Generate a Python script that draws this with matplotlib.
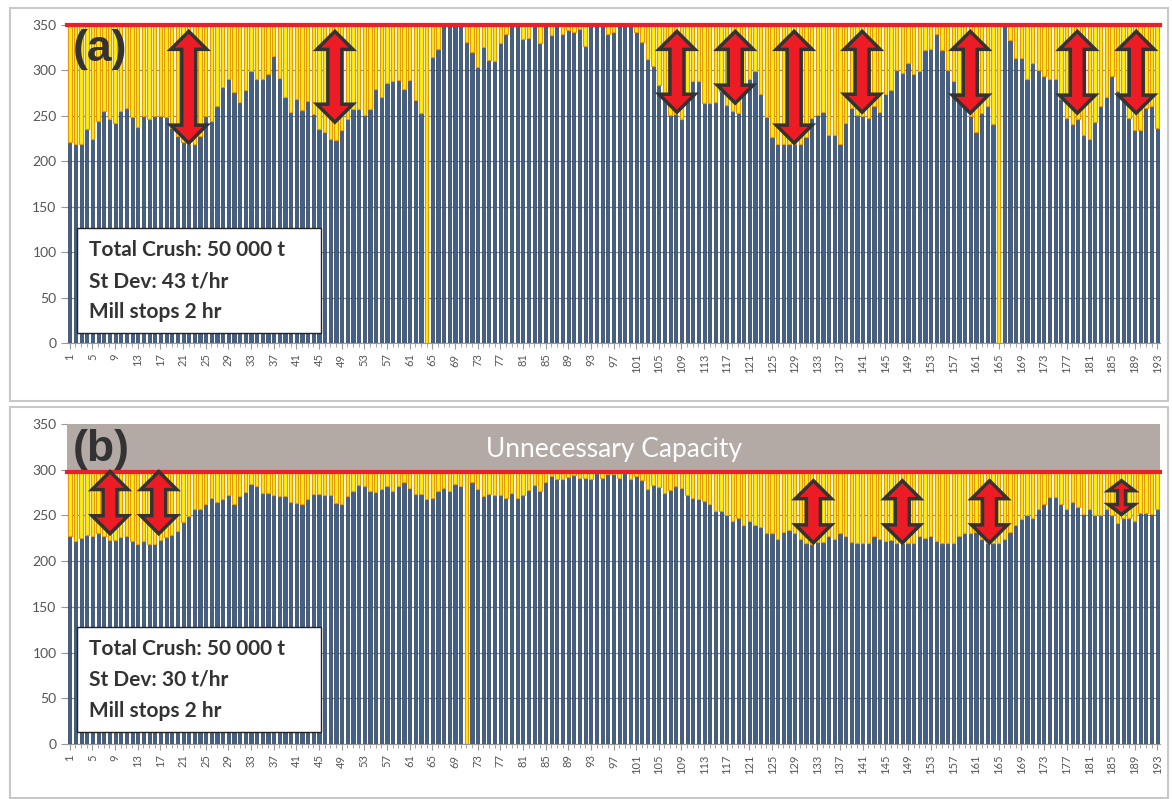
import matplotlib
matplotlib.use("Agg")
import matplotlib.pyplot as plt
from matplotlib.patches import Polygon, Rectangle
import numpy as np

plt.rcParams['font.family'] = ['Lato', 'DejaVu Sans']

hours = np.arange(1, 194)

# hourly crush rate (t/hr), panel (a): variable supply
crush_a = [
    221, 219, 219, 235, 225, 244, 255, 246, 242, 255, 259, 249, 238, 250, 247, 250,
    250, 249, 237, 228, 221, 219, 219, 228, 250, 244, 261, 282, 291, 276, 265, 278,
    299, 291, 291, 296, 316, 292, 271, 254, 269, 256, 266, 252, 236, 232, 225, 223,
    234, 247, 258, 258, 251, 258, 280, 271, 286, 288, 289, 280, 290, 267, 253, 0,
    315, 324, 350, 350, 350, 350, 331, 320, 304, 326, 312, 310, 330, 340, 350, 350,
    335, 336, 350, 330, 350, 339, 350, 340, 344, 342, 346, 327, 350, 350, 350, 340,
    342, 350, 350, 350, 342, 331, 313, 305, 284, 275, 251, 252, 246, 270, 288, 288,
    264, 264, 265, 277, 262, 255, 253, 283, 291, 299, 274, 249, 227, 219, 219, 219,
    219, 219, 227, 248, 251, 254, 229, 229, 219, 242, 259, 251, 250, 248, 261, 254,
    274, 279, 301, 297, 308, 296, 299, 323, 324, 340, 323, 301, 288, 275, 262, 250,
    232, 253, 261, 241, 0, 350, 333, 314, 314, 291, 308, 301, 294, 291, 291, 269,
    248, 241, 247, 229, 225, 243, 261, 271, 294, 277, 271, 248, 234, 234, 259, 261,
    237,
]

# hourly crush rate (t/hr), panel (b): smoothed supply
crush_b = [
    228, 222, 225, 229, 228, 231, 228, 223, 223, 226, 228, 222, 219, 222, 219, 219,
    223, 226, 229, 233, 243, 249, 257, 257, 263, 269, 265, 268, 272, 262, 271, 276,
    284, 282, 275, 275, 272, 271, 271, 265, 264, 263, 268, 273, 273, 272, 272, 264,
    262, 271, 277, 283, 282, 277, 276, 279, 282, 277, 282, 287, 280, 273, 273, 268,
    269, 277, 280, 277, 284, 282, 0, 287, 279, 271, 273, 272, 272, 269, 275, 269,
    272, 278, 283, 277, 287, 293, 290, 290, 292, 294, 291, 291, 290, 296, 291, 295,
    295, 291, 296, 290, 293, 289, 279, 283, 281, 274, 278, 282, 280, 272, 269, 268,
    266, 263, 255, 255, 250, 244, 247, 239, 244, 239, 237, 231, 231, 224, 232, 234,
    231, 224, 220, 219, 221, 221, 228, 224, 231, 228, 221, 220, 220, 220, 227, 224,
    222, 223, 220, 220, 220, 220, 228, 225, 227, 222, 220, 220, 220, 227, 231, 231,
    232, 224, 220, 220, 220, 224, 232, 239, 246, 250, 247, 257, 263, 270, 270, 263,
    257, 265, 259, 252, 257, 250, 251, 257, 250, 242, 247, 247, 244, 253, 253, 252,
    257,
]

capacity_a = 350
capacity_b = 297

notes_a = ["Total Crush: 50 000 t", "St Dev: 43 t/hr", "Mill stops 2 hr"]
notes_b = ["Total Crush: 50 000 t", "St Dev: 30 t/hr", "Mill stops 2 hr"]

# double arrows: (hour, top, bottom, big?)
arrows_a = [(22.0, 343, 220, True), (47.8, 343, 243, True), (108.2, 343, 254, True),
            (118.5, 343, 264, True), (128.9, 343, 220, True), (140.9, 343, 254, True),
            (160.0, 343, 253, True), (178.9, 343, 253, True), (189.3, 343, 253, True)]
arrows_b = [(8.1, 298, 230, True), (16.7, 298, 230, True), (132.3, 288, 220, True),
            (148.0, 288, 220, True), (163.4, 288, 220, True), (186.7, 288, 251, False)]

W, H = 1172, 799
fig = plt.figure(figsize=(W / 100, H / 100), dpi=100)


def fx(px):
    return px / W


def fy(py):
    return 1 - py / H


def double_arrow(ax, x, top, bot, big, ypx):
    # sizes in pixels converted to data units
    xpx = 5.66
    hw = (18 if big else 13) / xpx
    sw = (7 if big else 4) / xpx
    hh = (18 if big else 10) / ypx
    pts = [(x, top), (x + hw, top - hh), (x + sw, top - hh), (x + sw, bot + hh),
           (x + hw, bot + hh), (x, bot), (x - hw, bot + hh), (x - sw, bot + hh),
           (x - sw, top - hh), (x - hw, top - hh)]
    ax.add_patch(Polygon(pts, closed=True, facecolor='#ED1C24', edgecolor='#333333',
                         linewidth=2.5, joinstyle='miter', zorder=6, clip_on=False))


def draw_panel(ax, crush, capacity, arrows, ypx):
    crush = np.array(crush)
    ax.bar(hours, crush, width=0.56, color='#41608A', edgecolor='#2A3A50',
           linewidth=0.5, zorder=3)
    ax.bar(hours, capacity - crush, bottom=crush, width=0.6, color='#FFF200',
           edgecolor='#E39A0E', linewidth=0.9, zorder=3)
    ax.axhline(capacity, color='#E8202A', lw=3, zorder=5, clip_on=False)
    ax.set_xlim(0.5, 193.5)
    ax.set_ylim(0, 350)
    ax.set_yticks(range(0, 351, 50))
    ax.set_xticks(range(1, 194, 4))
    ax.set_xticks(hours, minor=True)
    ax.tick_params(axis='x', labelrotation=90, labelsize=8, labelcolor='#555555',
                   color='#999999', length=4)
    ax.tick_params(axis='x', which='minor', color='#999999', length=3)
    ax.tick_params(axis='y', labelsize=10, labelcolor='#555555', color='#999999', length=4)
    ax.yaxis.grid(True, color='#8C8C8C', lw=0.9)
    ax.set_axisbelow(True)
    for s in ['top', 'right', 'left']:
        ax.spines[s].set_visible(False)
    ax.spines['bottom'].set_color('#999999')
    for x, top, bot, big in arrows:
        double_arrow(ax, x, top, bot, big, ypx)


ax1 = fig.add_axes([fx(67), fy(343), fx(1093), 318 / H])
ax2 = fig.add_axes([fx(67), fy(744), fx(1093), 320 / H])

draw_panel(ax1, crush_a, capacity_a, arrows_a, 0.908)
ax2.axhspan(capacity_b, 350, color='#B3A9A5', zorder=4)
draw_panel(ax2, crush_b, capacity_b, arrows_b, 0.914)

ax2.text(0.5006, 0.92, "Unnecessary Capacity", transform=ax2.transAxes, color='white',
         fontsize=19, ha='center', va='center', zorder=7)

# panel frames
for top, bot in [(8, 401), (407, 798)]:
    fig.add_artist(Rectangle((fx(10), fy(bot)), fx(1158), (bot - top) / H,
                             transform=fig.transFigure, fill=False,
                             edgecolor='#C8C8C8', linewidth=1.5))

# panel letters
fig.text(fx(73), fy(49), "(a)", fontsize=32, fontweight='bold', color='#333333',
         family='Liberation Sans', va='center', zorder=8)
fig.text(fx(73), fy(449), "(b)", fontsize=32, fontweight='bold', color='#333333',
         family='Liberation Sans', va='center', zorder=8)

# summary boxes
for top, notes in [(228, notes_a), (627, notes_b)]:
    fig.add_artist(Rectangle((fx(77), fy(top + 105)), fx(244), 105 / H,
                             transform=fig.transFigure, facecolor='white',
                             edgecolor='#222222', linewidth=1, zorder=9))
    for k, line in enumerate(notes):
        fig.text(fx(89), fy(top + 22 + k * 31), line, fontsize=15, fontweight='bold',
                 color='#333333', va='center', zorder=10)

fig.savefig("out.png", dpi=100)
